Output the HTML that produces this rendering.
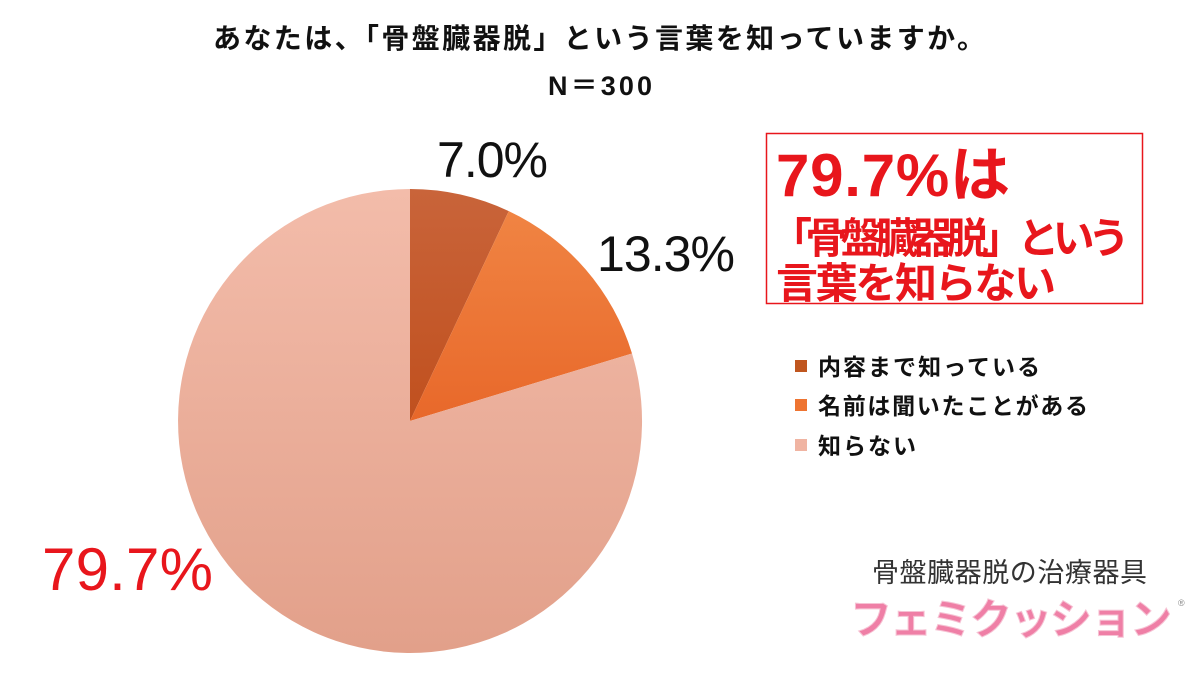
<!DOCTYPE html>
<html><head><meta charset="utf-8"><style>
body{margin:0;background:#fff;}
svg text{font-family:"Liberation Sans","Noto Sans CJK JP",sans-serif;}
</style></head><body>
<svg width="1200" height="675" viewBox="0 0 1200 675" xmlns="http://www.w3.org/2000/svg">
<defs>
<linearGradient id="g1" x1="0" y1="0" x2="0" y2="1"><stop offset="0" stop-color="#c9643a"/><stop offset="1" stop-color="#c0501e"/></linearGradient>
<linearGradient id="g2" x1="0" y1="0" x2="0" y2="1"><stop offset="0" stop-color="#f08443"/><stop offset="1" stop-color="#e8682a"/></linearGradient>
<linearGradient id="g3" x1="0" y1="0" x2="0" y2="1"><stop offset="0" stop-color="#f3bcaa"/><stop offset="1" stop-color="#e2a08a"/></linearGradient>
</defs>
<rect width="1200" height="675" fill="#fff"/>
<text x="213" y="48" font-size="28" font-weight="bold" fill="#111" textLength="772">あなたは、「骨盤臓器脱」という言葉を知っていますか。</text>
<text x="548" y="95" font-size="27" font-weight="bold" fill="#111" textLength="104">N＝300</text>
<path d="M410 421 L410 189 A232 232 0 0 1 508.8 211.1 Z" fill="url(#g1)"/>
<path d="M410 421 L508.8 211.1 A232 232 0 0 1 632 353.5 Z" fill="url(#g2)"/>
<path d="M410 421 L632 353.5 A232 232 0 1 1 410 189 Z" fill="url(#g3)"/>
<text x="437" y="177" font-size="50" fill="#111" textLength="111">7.0%</text>
<text x="597" y="271" font-size="50" fill="#111" textLength="138">13.3%</text>
<text x="42" y="590" font-size="60" fill="#e8161c" textLength="171">79.7%</text>
<rect x="766.5" y="133.5" width="376" height="170" fill="#fff" stroke="#e8161c" stroke-width="1.5"/>
<text x="776" y="196" font-size="60" font-weight="bold" fill="#e8161c" textLength="234">79.7%は</text>
<text x="770" y="253" font-size="42" font-weight="bold" fill="#e8161c" textLength="360">「骨盤臓器脱」という</text>
<text x="776" y="298" font-size="42" font-weight="bold" fill="#e8161c" textLength="280">言葉を知らない</text>
<rect x="795" y="360" width="12" height="12" fill="#c0561f"/>
<text x="818" y="375" font-size="23" font-weight="bold" fill="#111" textLength="222">内容まで知っている</text>
<rect x="795" y="399" width="12" height="12" fill="#ee7431"/>
<text x="818" y="414" font-size="23" font-weight="bold" fill="#111" textLength="270">名前は聞いたことがある</text>
<rect x="795" y="439" width="12" height="12" fill="#f0b4a2"/>
<text x="818" y="454" font-size="23" font-weight="bold" fill="#111" textLength="98">知らない</text>
<text x="872" y="582" font-size="27" fill="#333" textLength="275">骨盤臓器脱の治療器具</text>
<text x="850" y="634" font-size="42" font-weight="bold" fill="#ef7fa6" stroke="#f6c3d4" stroke-width="1" textLength="322">フェミクッション</text>
<text x="1178" y="606" font-size="9" fill="#888">®</text>
</svg>
</body></html>
